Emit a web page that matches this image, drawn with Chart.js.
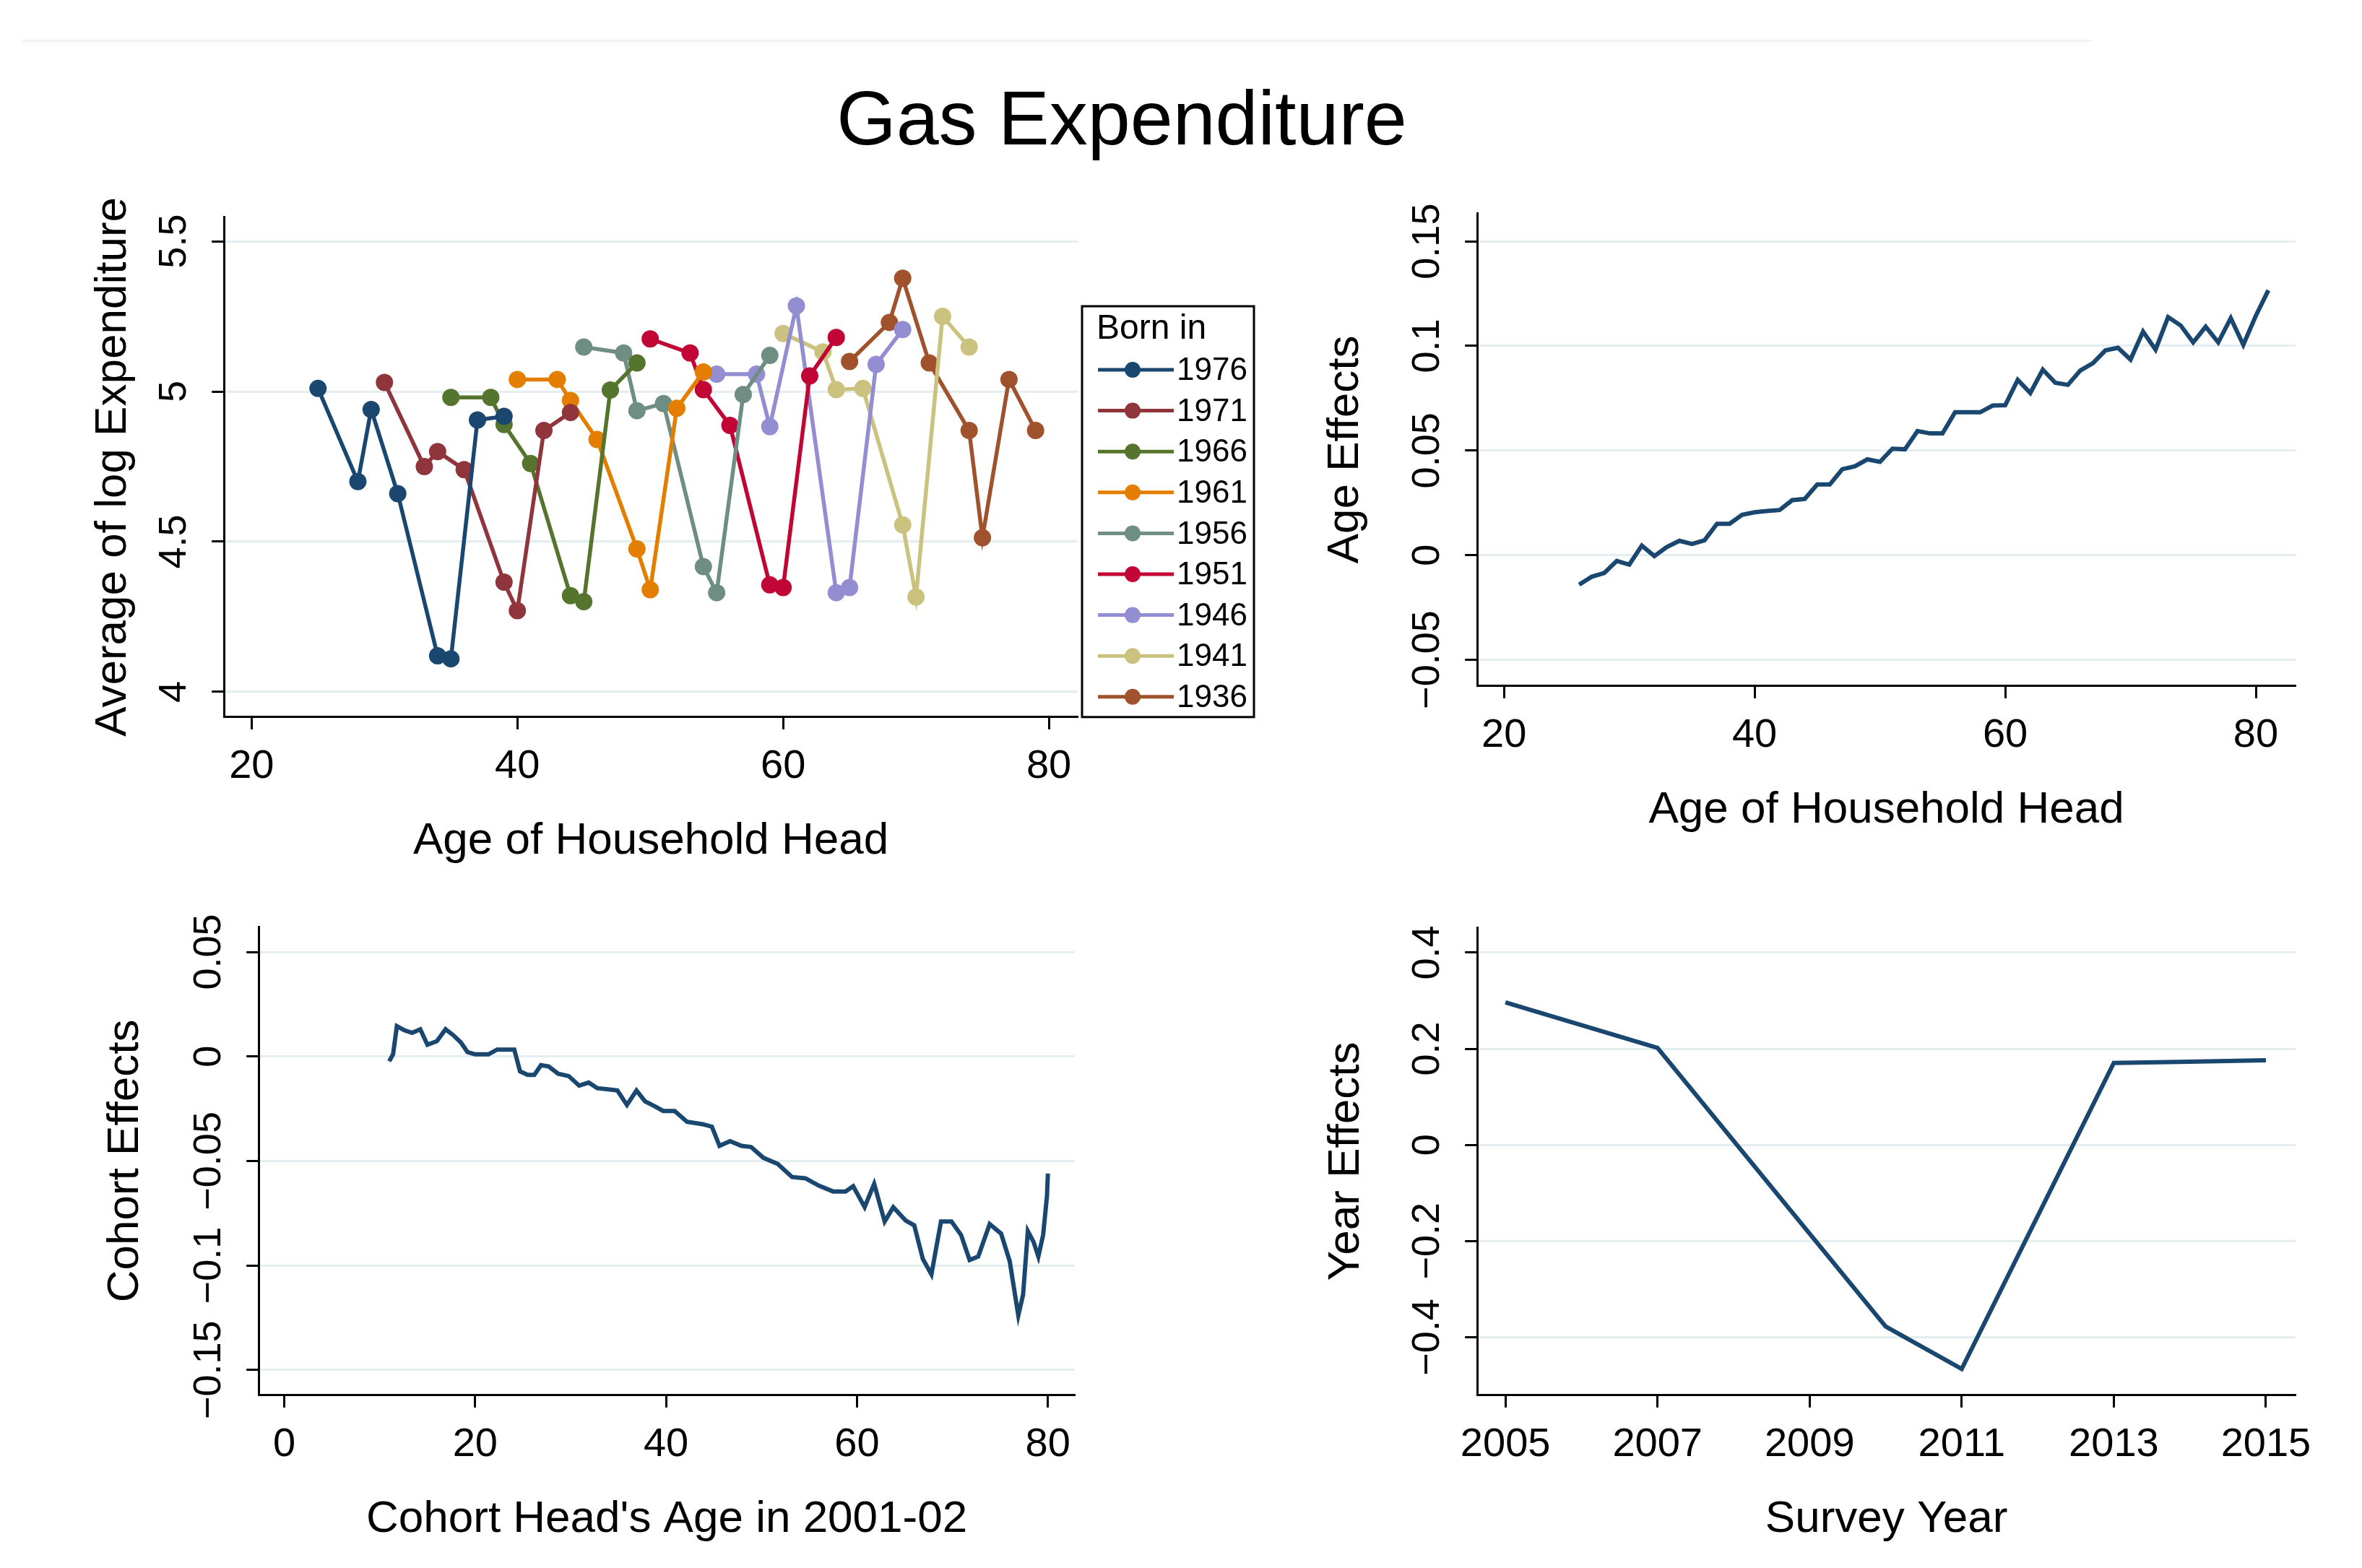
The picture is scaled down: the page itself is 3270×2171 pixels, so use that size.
<!DOCTYPE html>
<html>
<head>
<meta charset="utf-8">
<title>Gas Expenditure</title>
<script src="https://cdn.jsdelivr.net/npm/chart.js@4.4.1/dist/chart.umd.min.js"></script>
<style>
    html, body { margin: 0; padding: 0; background: #fff; }
    body { width: 3270px; height: 2171px; position: relative; overflow: hidden; font-family: "Liberation Sans", Arial, sans-serif; }
    canvas { position: absolute; }
    #topline { position: absolute; left: 31px; top: 55px; width: 2865px; height: 3px; background: #eef4f4; }
    #title { position: absolute; left: 0; top: 110px; width: 3106px; text-align: center; font-size: 106px; line-height: 1; color: #000; }
</style>
</head>
<body>
<div id="topline"></div>
<div id="title">Gas Expenditure</div>
<canvas id="chart-cohorts"></canvas>
<canvas id="chart-age"></canvas>
<canvas id="chart-cohort-eff"></canvas>
<canvas id="chart-year"></canvas>

<script>
// Panneau 1 : moyenne du log de la dépense par cohorte
const cohortLabels = ['1976', '1971', '1966', '1961', '1956', '1951', '1946', '1941', '1936'];
const cohortColors = ['#1a476f', '#90353b', '#55752f', '#e37e00', '#6e8e84', '#c10534', '#938dd2', '#cac27e', '#a0522d'];
const cohortAges = [
    [25, 28, 29, 31, 34, 35, 37, 39],
    [30, 33, 34, 36, 39, 40, 42, 44],
    [35, 38, 39, 41, 44, 45, 47, 49],
    [40, 43, 44, 46, 49, 50, 52, 54],
    [45, 48, 49, 51, 54, 55, 57, 59],
    [50, 53, 54, 56, 59, 60, 62, 64],
    [55, 58, 59, 61, 64, 65, 67, 69],
    [60, 63, 64, 66, 69, 70, 72, 74],
    [65, 68, 69, 71, 74, 75, 77, 79]
];
const cohortMeans = [
    [5.01, 4.70, 4.94, 4.66, 4.12, 4.11, 4.905, 4.917],
    [5.03, 4.75, 4.80, 4.74, 4.365, 4.27, 4.87, 4.93],
    [4.98, 4.98, 4.89, 4.76, 4.32, 4.30, 5.005, 5.095],
    [5.04, 5.04, 4.97, 4.84, 4.476, 4.34, 4.944, 5.065],
    [5.148, 5.128, 4.936, 4.96, 4.417, 4.33, 4.99, 5.12],
    [5.175, 5.128, 5.006, 4.887, 4.356, 4.347, 5.052, 5.18],
    [5.058, 5.058, 4.883, 5.285, 4.33, 4.347, 5.09, 5.206],
    [5.193, 5.132, 5.006, 5.01, 4.556, 4.316, 5.25, 5.148],
    [5.10, 5.23, 5.377, 5.095, 4.87, 4.513, 5.04, 4.87]
];
const headAgeTicks = [20, 40, 60, 80];
const logExpTicks = [4, 4.5, 5, 5.5];

// Panneau 2 : effets d'âge
const ageEffAge = [26, 27, 28, 29, 30, 31, 32, 33, 34, 35, 36, 37, 38, 39, 40, 41, 42, 43, 44, 45,
    46, 47, 48, 49, 50, 51, 52, 53, 54, 55, 56, 57, 58, 59, 60, 61, 62, 63, 64, 65,
    66, 67, 68, 69, 70, 71, 72, 73, 74, 75, 76, 77, 78, 79, 80, 81];
const ageEffValue = [-0.0141, -0.0103, -0.0085, -0.0027, -0.0045, 0.0046, -0.0004, 0.0039, 0.0069, 0.0054,
    0.0071, 0.0150, 0.0150, 0.0193, 0.0205, 0.0211, 0.0216, 0.0263, 0.0269, 0.0338,
    0.0338, 0.0411, 0.0425, 0.0458, 0.0446, 0.0509, 0.0506, 0.0593, 0.0582, 0.0582,
    0.0683, 0.0683, 0.0683, 0.0715, 0.0717, 0.0838, 0.0775, 0.0887, 0.0824, 0.0814,
    0.0883, 0.0918, 0.0979, 0.0991, 0.0935, 0.1069, 0.0982, 0.1138, 0.1098, 0.1017,
    0.1092, 0.1017, 0.1133, 0.1005, 0.1144, 0.1266];
const ageEffTicks = [-0.05, 0, 0.05, 0.1, 0.15];

// Panneau 3 : effets de cohorte
const cohortEffAge = [11.0, 11.4, 11.8, 12.6, 13.4, 14.25, 15.0, 16.0, 16.9, 17.7, 18.5, 19.2, 20.0, 21.4, 22.3,
    24.1, 24.7, 25.5, 26.2, 26.9, 27.7, 28.7, 29.8, 30.9, 31.9, 32.8, 34.1, 34.9, 35.9, 36.9,
    37.8, 38.8, 39.7, 40.9, 42.2, 43.8, 44.8, 45.6, 46.7, 47.9, 48.9, 50.2, 51.7, 53.2, 54.6,
    56.0, 57.5, 58.8, 59.6, 60.8, 61.8, 62.9, 63.8, 65.1, 66.0, 66.9, 67.8, 68.8, 69.9, 70.9,
    71.8, 72.7, 73.9, 75.1, 76.0, 76.9, 77.4, 77.9, 78.5, 79.0, 79.5, 79.9, 80.0];
const cohortEffValue = [-0.0023, 0.0010, 0.0145, 0.0125, 0.0113, 0.0130, 0.0056, 0.0073, 0.0130, 0.0102, 0.0067, 0.0021, 0.0010, 0.0010, 0.0033,
    0.0033, -0.0071, -0.0088, -0.0088, -0.0042, -0.0048, -0.0083, -0.0094, -0.0140, -0.0125, -0.0152, -0.0158, -0.0163, -0.0232, -0.0163,
    -0.0215, -0.0238, -0.0261, -0.0261, -0.0313, -0.0324, -0.0336, -0.0428, -0.0405, -0.0428, -0.0433, -0.0485, -0.0514, -0.0577, -0.0583,
    -0.0618, -0.0646, -0.0646, -0.0621, -0.0721, -0.0610, -0.0790, -0.0721, -0.0785, -0.0808, -0.0969, -0.1043, -0.0790, -0.0790, -0.0854,
    -0.0974, -0.0957, -0.0802, -0.0848, -0.0980, -0.1239, -0.1140, -0.0836, -0.0888, -0.0957, -0.0854, -0.0670, -0.0560];
const cohortAgeTicks = [0, 20, 40, 60, 80];
const cohortEffTicks = [-0.15, -0.1, -0.05, 0, 0.05];

// Panneau 4 : effets d'année
const surveyYears = [2005, 2007, 2010, 2011, 2013, 2014, 2015];
const yearEffValue = [0.2965, 0.2018, -0.3776, -0.466, 0.1705, 0.173, 0.176];
const surveyYearTicks = [2005, 2007, 2009, 2011, 2013, 2015];
const yearEffTicks = [-0.4, -0.2, 0, 0.2, 0.4];

const FONT = '"Liberation Sans", Arial, sans-serif';
const NAVY = '#1a476f';
const GRID = '#e4eef1';
const PAD_TOP = 80;
Chart.defaults.font.family = FONT;
Chart.defaults.color = '#000';

function fmtTick(v) {
    return String(v).replace('-', '\u2212');
}

const measureCtx = document.createElement('canvas').getContext('2d');
function widestLabel(ticks, size) {
    measureCtx.font = size + 'px ' + FONT;
    return Math.max(...ticks.map(t => measureCtx.measureText(fmtTick(t)).width));
}

function toPoints(xs, ys) {
    return xs.map((x, i) => ({ x: x, y: ys[i] }));
}

// Pas de marge automatique pour les étiquettes qui débordent
function noOverhang(s) {
    s.paddingTop = 0;
    s.paddingBottom = 0;
    s.paddingLeft = 0;
    s.paddingRight = 0;
}

// Légende "Born in" dessinée à droite du premier panneau
const bornInLegend = {
    id: 'bornInLegend',
    afterDraw(chart) {
        const ctx = chart.ctx;
        const area = chart.chartArea;
        const x0 = area.right + 6;
        const y0 = area.top + 124;
        const w = 238;
        const h = area.bottom - y0;
        ctx.save();
        ctx.strokeStyle = '#000';
        ctx.lineWidth = 3;
        ctx.strokeRect(x0, y0, w, h);
        ctx.fillStyle = '#000';
        ctx.textBaseline = 'middle';
        ctx.textAlign = 'left';
        ctx.font = '48px ' + FONT;
        ctx.fillText('Born in', x0 + 20, y0 + 32);
        ctx.font = '44px ' + FONT;
        chart.data.datasets.forEach((ds, i) => {
            const y = y0 + 88 + i * 56.6;
            ctx.strokeStyle = ds.borderColor;
            ctx.lineWidth = 5;
            ctx.beginPath();
            ctx.moveTo(x0 + 22, y);
            ctx.lineTo(x0 + 127, y);
            ctx.stroke();
            ctx.fillStyle = ds.borderColor;
            ctx.beginPath();
            ctx.arc(x0 + 70, y, 11, 0, Math.PI * 2);
            ctx.fill();
            ctx.fillStyle = '#000';
            ctx.fillText(ds.label, x0 + 131, y + 2);
        });
        ctx.restore();
    }
};

function buildPanel(id, geo, datasets, xAxis, yAxis, plugins) {
    const W = geo.yTitleOff + 37.2;
    const H = 172 + 37.2;
    const left = geo.axisX - W;
    const top = geo.top - PAD_TOP;
    const width = Math.round(geo.right + geo.padRight - left);
    const height = Math.round(geo.axisY + H - top);
    const canvas = document.getElementById(id);
    canvas.style.left = left + 'px';
    canvas.style.top = top + 'px';
    canvas.width = width;
    canvas.height = height;
    canvas.style.width = width + 'px';
    canvas.style.height = height + 'px';

    const yPad = 68 - 17 - widestLabel(yAxis.ticks, 54) / 2;

    return new Chart(canvas, {
        type: 'line',
        data: { datasets: datasets },
        options: {
            responsive: false,
            animation: false,
            devicePixelRatio: 1,
            layout: { padding: { top: PAD_TOP, right: geo.padRight, bottom: 0, left: 0 } },
            plugins: { legend: { display: false }, tooltip: { enabled: false } },
            scales: {
                x: {
                    type: 'linear',
                    min: xAxis.min,
                    max: xAxis.max,
                    afterBuildTicks: s => { s.ticks = xAxis.ticks.map(v => ({ value: v })); },
                    afterFit: s => { s.height = H; noOverhang(s); },
                    grid: { drawOnChartArea: false, drawTicks: true, tickLength: 17, tickWidth: 3, tickColor: '#000' },
                    border: { display: true, color: '#000', width: 3 },
                    ticks: { autoSkip: false, minRotation: 0, maxRotation: 0, padding: 69 - 17 - 33.6, font: { size: 56 }, color: '#000', callback: fmtTick },
                    title: { display: true, text: xAxis.title, font: { size: 62 }, color: '#000', padding: 0 }
                },
                y: {
                    type: 'linear',
                    min: yAxis.min,
                    max: yAxis.max,
                    afterBuildTicks: s => { s.ticks = yAxis.ticks.map(v => ({ value: v })); },
                    afterFit: s => { s.width = W; noOverhang(s); },
                    grid: { color: GRID, lineWidth: 3, drawTicks: true, tickLength: 17, tickWidth: 3, tickColor: '#000' },
                    border: { display: true, color: '#000', width: 3 },
                    ticks: { autoSkip: false, minRotation: 90, maxRotation: 90, crossAlign: 'center', padding: yPad, font: { size: 54 }, color: '#000', callback: fmtTick },
                    title: { display: true, text: yAxis.title, font: { size: 62 }, color: '#000', padding: 0 }
                }
            }
        },
        plugins: plugins || []
    });
}

// Panneau 1
buildPanel('chart-cohorts',
    { axisX: 310, axisY: 993, top: 300, right: 1492, padRight: 268, yTitleOff: 153 },
    cohortLabels.map((lab, i) => ({
        label: lab,
        data: toPoints(cohortAges[i], cohortMeans[i]),
        borderColor: cohortColors[i],
        backgroundColor: cohortColors[i],
        borderWidth: 5.5,
        pointRadius: 12,
        pointBorderWidth: 0,
        pointBackgroundColor: cohortColors[i],
        tension: 0
    })),
    { min: 17.93, max: 82.17, ticks: headAgeTicks, title: 'Age of Household Head' },
    { min: 3.916, max: 5.582, ticks: logExpTicks, title: 'Average of log Expenditure' },
    [bornInLegend]
);

// Panneau 2
buildPanel('chart-age',
    { axisX: 2045, axisY: 950, top: 295, right: 3178, padRight: 60, yTitleOff: 182 },
    [{
        label: 'Age Effects',
        data: toPoints(ageEffAge, ageEffValue),
        borderColor: NAVY,
        borderWidth: 6,
        pointRadius: 0,
        tension: 0
    }],
    { min: 17.87, max: 83.17, ticks: headAgeTicks, title: 'Age of Household Head' },
    { min: -0.0625, max: 0.1635, ticks: ageEffTicks, title: 'Age Effects' }
);

// Panneau 3
buildPanel('chart-cohort-eff',
    { axisX: 358, axisY: 1932, top: 1283, right: 1488, padRight: 60, yTitleOff: 184 },
    [{
        label: 'Cohort Effects',
        data: toPoints(cohortEffAge, cohortEffValue),
        borderColor: NAVY,
        borderWidth: 6,
        pointRadius: 0,
        tension: 0
    }],
    { min: -2.67, max: 82.82, ticks: cohortAgeTicks, title: "Cohort Head's Age in 2001-02" },
    { min: -0.1621, max: 0.0621, ticks: cohortEffTicks, title: 'Cohort Effects' }
);

// Panneau 4
buildPanel('chart-year',
    { axisX: 2045, axisY: 1932, top: 1284, right: 3178, padRight: 60, yTitleOff: 181 },
    [{
        label: 'Year Effects',
        data: toPoints(surveyYears, yearEffValue),
        borderColor: NAVY,
        borderWidth: 6,
        pointRadius: 0,
        tension: 0
    }],
    { min: 2004.63, max: 2015.39, ticks: surveyYearTicks, title: 'Survey Year' },
    { min: -0.5207, max: 0.4524, ticks: yearEffTicks, title: 'Year Effects' }
);
</script>
</body>
</html>
